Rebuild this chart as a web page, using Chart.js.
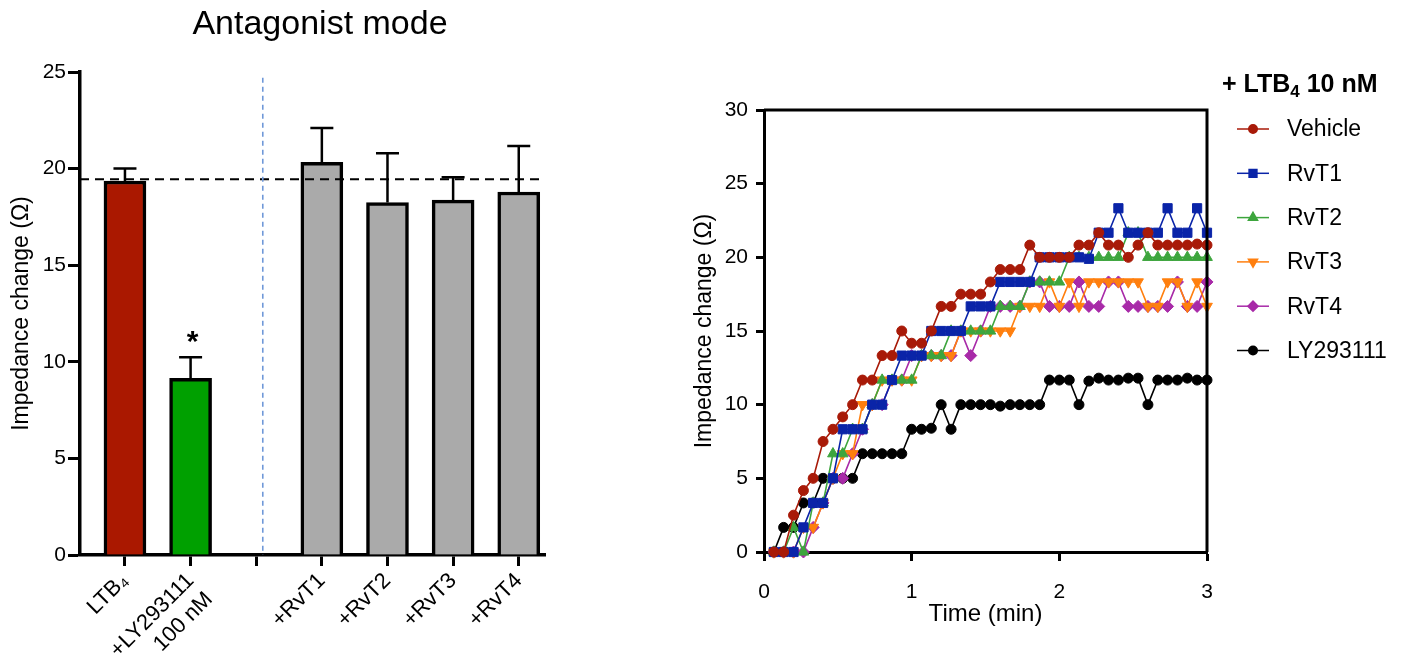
<!DOCTYPE html>
<html>
<head>
<meta charset="utf-8">
<title>Antagonist mode</title>
<script src="https://cdn.jsdelivr.net/npm/chart.js@4.4.1/dist/chart.umd.min.js"></script>
<style>
  body { margin: 0; background: #fff; width: 1403px; height: 662px; overflow: hidden; position: relative; }
  canvas { position: absolute; top: 0; }
  #bar-chart { left: 0; }
  #time-chart { left: 600px; }
</style>
</head>
<body>
<canvas id="bar-chart" width="640" height="662"></canvas>
<canvas id="time-chart" width="803" height="662"></canvas>
<script>
const FONT = "'Liberation Sans', Arial, Helvetica, sans-serif"

// left panel - antagonist mode bars (position 3 is the empty gap)
const barPositions = [1, 2, 4, 5, 6, 7]
const barLabels = [['LTB₄'], ['+LY293111', '100 nM'], ['+RvT1'], ['+RvT2'], ['+RvT3'], ['+RvT4']]
const barMeans = [19.36, 9.15, 20.33, 18.24, 18.37, 18.79]
const barSem = [0.64, 1.08, 1.77, 2.56, 1.18, 2.38]
const barColors = ['#aa1800', '#00a000', '#aaaaaa', '#aaaaaa', '#aaaaaa', '#aaaaaa']
const significant = [false, true, false, false, false, false]
const ltbLevel = 19.45
const dividerAt = 3.1

// right panel - time course, + LTB4 10 nM
const timeMin = [0.067, 0.133, 0.2, 0.267, 0.333, 0.4, 0.467, 0.533, 0.6, 0.667,
  0.733, 0.8, 0.867, 0.933, 1.0, 1.067, 1.133, 1.2, 1.267, 1.333,
  1.4, 1.467, 1.533, 1.6, 1.667, 1.733, 1.8, 1.867, 1.933, 2.0,
  2.067, 2.133, 2.2, 2.267, 2.333, 2.4, 2.467, 2.533, 2.6, 2.667,
  2.733, 2.8, 2.867, 2.933, 3.0]
const vehicle = [0, 0, 2.5, 4.17, 5, 7.5, 8.33, 9.17, 10, 11.67,
  11.67, 13.33, 13.33, 15, 14.17, 14.17, 15, 16.67, 16.67, 17.5,
  17.5, 17.5, 18.33, 19.17, 19.17, 19.17, 20.83, 20, 20, 20,
  20, 20.83, 20.83, 21.67, 20.83, 20.83, 20, 20.83, 21.67, 20.83,
  20.83, 20.83, 20.83, 20.9, 20.83]
const rvt1 = [0, 0, 0, 1.67, 3.33, 3.33, 5, 8.33, 8.33, 8.33,
  10, 10, 11.67, 13.33, 13.33, 13.33, 15, 15, 15, 15,
  16.67, 16.67, 16.67, 18.33, 18.33, 18.33, 18.33, 20, 20, 20,
  20, 20, 19.9, 21.67, 21.67, 23.33, 21.67, 21.67, 21.67, 21.67,
  23.33, 21.67, 21.67, 23.33, 21.67]
const rvt2 = [0, 0, 1.67, 0, 3.33, 3.33, 6.67, 6.67, 8.33, 8.33,
  10, 11.67, 11.67, 11.67, 11.67, 13.33, 13.33, 13.33, 15, 15,
  15, 15, 15, 16.67, 16.67, 16.67, 18.33, 18.33, 18.33, 18.33,
  20, 20, 20, 20, 20, 20, 21.67, 21.67, 20, 20,
  20, 20, 20, 20, 20]
const rvt3 = [0, 0, 0, 1.67, 1.67, 3.33, 5, 6.67, 6.67, 10,
  10, 11.67, 11.67, 11.67, 11.67, 13.33, 13.33, 13.33, 13.33, 15,
  15, 15, 15, 15, 15, 16.67, 16.67, 16.67, 18.33, 16.67,
  18.33, 16.67, 18.33, 18.33, 18.33, 18.33, 18.33, 18.33, 16.67, 16.67,
  18.33, 18.33, 16.67, 18.33, 16.67]
const rvt4 = [0, 0, 0, 0, 1.67, 3.33, 5, 5, 6.67, 8.33,
  10, 10, 11.67, 11.67, 13.33, 13.33, 13.33, 13.33, 13.33, 15,
  13.33, 15, 16.67, 16.67, 16.67, 16.67, 18.33, 18.33, 16.67, 16.67,
  16.67, 18.33, 16.67, 16.67, 18.33, 18.33, 16.67, 16.67, 16.67, 16.67,
  16.67, 18.33, 16.67, 16.67, 18.33]
const ly293111 = [0, 1.67, 1.67, 3.33, 3.33, 5, 5, 5, 5, 6.67,
  6.67, 6.67, 6.67, 6.67, 8.33, 8.33, 8.4, 10, 8.33, 10,
  10, 10, 10, 9.9, 10, 10, 10, 10, 11.67, 11.67,
  11.67, 10, 11.6, 11.8, 11.67, 11.67, 11.8, 11.8, 10, 11.67,
  11.67, 11.67, 11.8, 11.67, 11.67]

const seriesNames = ['Vehicle', 'RvT1', 'RvT2', 'RvT3', 'RvT4', 'LY293111']
const seriesData = [vehicle, rvt1, rvt2, rvt3, rvt4, ly293111]

// marker look for each series
function getLook(name) {
    if (name === 'Vehicle') return { color: '#a81a08', style: 'circle', radius: 5, rotation: 0 }
    if (name === 'RvT1') return { color: '#0a24a8', style: 'rect', radius: 6.5, rotation: 0 }
    if (name === 'RvT2') return { color: '#3da53d', style: 'triangle', radius: 6.2, rotation: 0 }
    if (name === 'RvT3') return { color: '#ff7f0e', style: 'triangle', radius: 6.2, rotation: 180 }
    if (name === 'RvT4') return { color: '#a82aa8', style: 'rectRot', radius: 6, rotation: 0 }
    return { color: '#000000', style: 'circle', radius: 5, rotation: 0 }
}

function axisGrid(len) {
    return { display: true, offset: false, drawOnChartArea: false, drawTicks: true, tickLength: len, tickWidth: 3, tickColor: '#000' }
}

// title, error bars, the asterisk and the reference lines of the bar panel
const barExtras = {
    id: 'barExtras',
    afterDatasetsDraw(chart) {
        const { ctx, chartArea, scales: { x, y } } = chart
        const meta = chart.getDatasetMeta(0)
        ctx.save()
        ctx.fillStyle = '#000'
        ctx.font = '34px ' + FONT
        ctx.textAlign = 'center'
        ctx.textBaseline = 'middle'
        ctx.fillText('Antagonist mode', chart.width / 2, 25)

        ctx.strokeStyle = '#000'
        ctx.lineWidth = 2.5
        meta.data.forEach((bar, i) => {
            const top = y.getPixelForValue(barMeans[i] + barSem[i])
            ctx.beginPath()
            ctx.moveTo(bar.x, bar.y)
            ctx.lineTo(bar.x, top)
            ctx.moveTo(bar.x - 11.5, top)
            ctx.lineTo(bar.x + 11.5, top)
            ctx.stroke()
            if (significant[i]) {
                ctx.font = 'bold 30px ' + FONT
                ctx.textAlign = 'center'
                ctx.textBaseline = 'alphabetic'
                ctx.fillText('*', bar.x + 2, top - 6)
            }
        })
        // dashed LTB4 level
        const ly = y.getPixelForValue(ltbLevel)
        ctx.lineWidth = 2
        ctx.setLineDash([9, 6])
        ctx.beginPath()
        ctx.moveTo(chartArea.left, ly)
        ctx.lineTo(chartArea.right, ly)
        ctx.stroke()
        // dotted blue divider
        const dx = x.getPixelForValue(dividerAt)
        ctx.strokeStyle = '#6f98d8'
        ctx.lineWidth = 1.6
        ctx.setLineDash([5, 4])
        ctx.beginPath()
        ctx.moveTo(dx, y.getPixelForValue(24.7))
        ctx.lineTo(dx, y.getPixelForValue(0))
        ctx.stroke()
        ctx.restore()
    }
}

// box around the time course plot + the legend on its right
const frameAndLegend = {
    id: 'frameAndLegend',
    afterDraw(chart) {
        const { ctx, chartArea } = chart
        ctx.save()
        ctx.strokeStyle = '#000'
        ctx.lineWidth = 3
        ctx.beginPath()
        ctx.moveTo(chartArea.left, chartArea.top)
        ctx.lineTo(chartArea.right, chartArea.top)
        ctx.lineTo(chartArea.right, chartArea.bottom)
        ctx.stroke()

        const base = chartArea.right
        ctx.fillStyle = '#000'
        ctx.textBaseline = 'alphabetic'
        ctx.textAlign = 'left'
        ctx.font = 'bold 25px ' + FONT
        let tx = base + 15
        ctx.fillText('+ LTB', tx, 92)
        tx += ctx.measureText('+ LTB').width
        ctx.font = 'bold 17px ' + FONT
        ctx.fillText('4', tx, 97)
        tx += ctx.measureText('4').width
        ctx.font = 'bold 25px ' + FONT
        ctx.fillText(' 10 nM', tx, 92)

        ctx.font = '23px ' + FONT
        ctx.textBaseline = 'middle'
        seriesNames.forEach((name, i) => {
            const look = getLook(name)
            const yy = 129 + i * 44.3
            ctx.strokeStyle = look.color
            ctx.fillStyle = look.color
            ctx.lineWidth = 1.5
            ctx.setLineDash([])
            ctx.beginPath()
            ctx.moveTo(base + 30, yy)
            ctx.lineTo(base + 62, yy)
            ctx.stroke()
            Chart.helpers.drawPoint(ctx, {
                pointStyle: look.style, radius: look.radius * 0.85, rotation: look.rotation, borderWidth: 1
            }, base + 46, yy)
            ctx.fillStyle = '#000'
            ctx.fillText(name, base + 80, yy + 1)
        })
        ctx.restore()
    }
}

function main() {
    const barCanvas = document.querySelector('#bar-chart')
    const timeCanvas = document.querySelector('#time-chart')

    // Antagonist mode bar chart
    new Chart(barCanvas.getContext('2d'), {
        type: 'bar',
        data: {
            datasets: [{
                label: 'Impedance change',
                data: barPositions.map((p, i) => ({ x: p, y: barMeans[i] })),
                backgroundColor: barColors,
                borderColor: '#000',
                borderWidth: 3.5,
                barThickness: 42
            }]
        },
        options: {
            responsive: false,
            animation: false,
            layout: { padding: { top: 72, right: 95 } },
            plugins: {
                legend: { display: false },
                tooltip: { enabled: false },
                title: { display: false }
            },
            scales: {
                x: {
                    type: 'linear',
                    offset: false,
                    min: 0.315,
                    max: 7.4,
                    afterBuildTicks: scale => {
                        scale.ticks = [1, 2, 3, 4, 5, 6, 7].map(v => ({ value: v }))
                    },
                    afterFit: scale => { scale.height = 107 },
                    grid: axisGrid(11),
                    border: { display: true, color: '#000', width: 3.5 },
                    ticks: {
                        autoSkip: false,
                        minRotation: 45,
                        maxRotation: 45,
                        padding: 2,
                        color: '#000',
                        font: { family: FONT, size: 22 },
                        callback: value => {
                            const i = barPositions.indexOf(value)
                            return i < 0 ? '' : barLabels[i]
                        }
                    }
                },
                y: {
                    min: 0,
                    max: 25,
                    afterFit: scale => { scale.width = 80 },
                    grid: axisGrid(12),
                    border: { display: true, color: '#000', width: 3.5 },
                    ticks: { stepSize: 5, padding: 2, color: '#000', font: { family: FONT, size: 21 } },
                    title: {
                        display: true,
                        text: 'Impedance change (Ω)',
                        color: '#000',
                        font: { family: FONT, size: 23 },
                        padding: { top: 8, bottom: 8 }
                    }
                }
            }
        },
        plugins: [barExtras]
    })

    // time course line chart
    new Chart(timeCanvas.getContext('2d'), {
        type: 'line',
        data: {
            datasets: seriesNames.map((name, s) => {
                const look = getLook(name)
                return {
                    label: name,
                    data: timeMin.map((t, i) => ({ x: t, y: seriesData[s][i] })),
                    borderColor: look.color,
                    backgroundColor: look.color,
                    borderWidth: 1.6,
                    pointStyle: look.style,
                    pointRadius: look.radius,
                    pointRotation: look.rotation,
                    pointBackgroundColor: look.color,
                    pointBorderColor: look.color,
                    pointBorderWidth: 1,
                    tension: 0,
                    clip: false
                }
            })
        },
        options: {
            responsive: false,
            animation: false,
            layout: { padding: { top: 110, right: 196 } },
            plugins: {
                legend: { display: false },
                tooltip: { enabled: false }
            },
            scales: {
                x: {
                    type: 'linear',
                    min: 0,
                    max: 3,
                    afterFit: scale => { scale.height = 110 },
                    grid: axisGrid(9),
                    border: { display: true, color: '#000', width: 3 },
                    ticks: { stepSize: 1, padding: 19, color: '#000', font: { family: FONT, size: 21 } },
                    title: {
                        display: true,
                        text: 'Time (min)',
                        color: '#000',
                        font: { family: FONT, size: 24 },
                        padding: { top: 33, bottom: 33 }
                    }
                },
                y: {
                    min: 0,
                    max: 30,
                    afterFit: scale => { scale.width = 164 },
                    grid: axisGrid(8),
                    border: { display: true, color: '#000', width: 3 },
                    ticks: { stepSize: 5, padding: 8, color: '#000', font: { family: FONT, size: 21 } },
                    title: {
                        display: true,
                        text: 'Impedance change (Ω)',
                        color: '#000',
                        font: { family: FONT, size: 23 },
                        padding: { top: 91, bottom: 91 }
                    }
                }
            }
        },
        plugins: [frameAndLegend]
    })
}

main()
</script>
</body>
</html>
